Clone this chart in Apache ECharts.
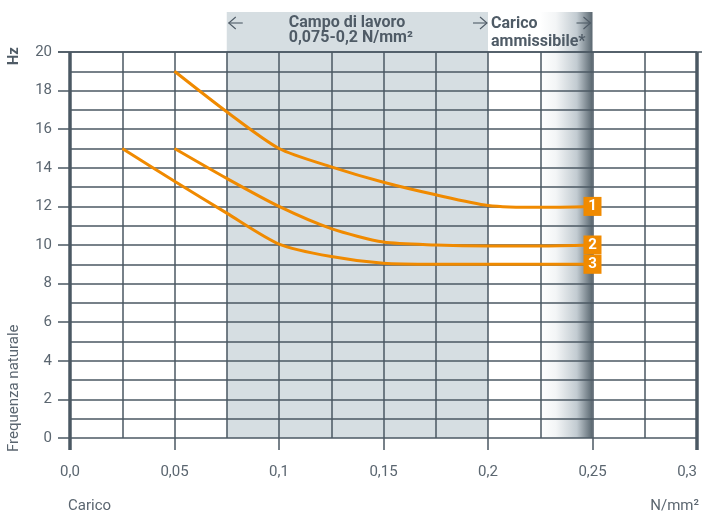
<!DOCTYPE html>
<html><head><meta charset="utf-8">
<script src="https://cdn.jsdelivr.net/npm/echarts@6/dist/echarts.min.js"></script>
<style>html,body{margin:0;padding:0;background:#fff}#c{width:702px;height:515px}</style>
</head><body><div id="c"></div>
<script>
const load1 = [0.05, 0.075, 0.1, 0.125, 0.15, 0.175, 0.2, 0.225, 0.25];
const freq1 = [19, 16.9, 15, 14.05, 13.25, 12.6, 12.05, 11.95, 12];
const load2 = [0.05, 0.075, 0.1, 0.125, 0.15, 0.175, 0.2, 0.225, 0.25];
const freq2 = [15, 13.45, 12, 10.85, 10.15, 10.0, 9.95, 9.95, 10];
const load3 = [0.025, 0.05, 0.075, 0.1, 0.125, 0.15, 0.175, 0.2, 0.225, 0.25];
const freq3 = [15, 13.3, 11.65, 10.05, 9.4, 9.05, 9.0, 9.0, 9.0, 9.0];
const seriesNames = ['1', '2', '3'];
const workRange = [0.075, 0.2];
const allowRange = [0.225, 0.25];
const xRange = [0, 0.3];
const yRange = [0, 20];

const ORANGE = '#f08a00';
const DARK = '#4b5863';
const TXT = '#5b6670';
const FONT = 'Roboto';

function pairs(xs, ys) { return xs.map((x, i) => [x, ys[i]]); }
function mkSeries(name, xs, ys) {
  const d = pairs(xs, ys);
  return {
    name, type: 'line', smooth: 0.25, symbol: 'circle', symbolSize: 0, showSymbol: true, z: 3,
    lineStyle: { color: ORANGE, width: 3 },
    itemStyle: { color: ORANGE },
    labelLayout: { hideOverlap: false },
    data: d.map((p, i) => i === d.length - 1 ? {
      value: p,
      label: { show: true, position: 'inside', formatter: name, color: '#fff',
        backgroundColor: ORANGE, fontFamily: FONT, fontSize: 15, fontWeight: 'bold',
        width: 14, height: 17, align: 'center', verticalAlign: 'middle', lineHeight: 17, padding: [1, 2, 1, 2] }
    } : p)
  };
}
const xfmt = v => v === 0 ? '0,0' : String(+v.toFixed(3)).replace('.', ',');

const chart = echarts.init(document.getElementById('c'), null, { renderer: 'canvas' });
chart.setOption({
  animation: false,
  grid: { left: 70, right: 5, top: 52, bottom: 77, containLabel: false, outerBoundsMode: 'none' },
  xAxis: {
    type: 'value', min: xRange[0], max: xRange[1], interval: 0.05,
    axisLine: { show: false },
    axisTick: { show: true, length: 12, lineStyle: { color: DARK, width: 1.5 } },
    axisLabel: { formatter: xfmt, color: TXT, fontFamily: FONT, fontSize: 15, margin: 27, alignMaxLabel: 'right' },
    splitLine: { show: true, lineStyle: { color: DARK, width: 1.5 } },
    minorTick: { show: false, splitNumber: 2 },
    minorSplitLine: { show: true, lineStyle: { color: DARK, width: 1.5 } }
  },
  yAxis: {
    type: 'value', min: yRange[0], max: yRange[1], interval: 2,
    axisLine: { show: false },
    axisTick: { show: true, length: 12, lineStyle: { color: DARK, width: 1.5 } },
    axisLabel: { color: TXT, fontFamily: FONT, fontSize: 15, margin: 18 },
    splitLine: { show: true, lineStyle: { color: DARK, width: 1.5 } },
    minorTick: { show: false, splitNumber: 2 },
    minorSplitLine: { show: true, lineStyle: { color: DARK, width: 1.5 } }
  },
  series: [
    mkSeries(seriesNames[0], load1, freq1),
    mkSeries(seriesNames[1], load2, freq2),
    mkSeries(seriesNames[2], load3, freq3)
  ]
});

const bandTop = 12;
const p = v => chart.convertToPixel({ xAxisIndex: 0, yAxisIndex: 0 }, v);
const [wx0, y0] = p([workRange[0], 0]);
const [wx1] = p([workRange[1], 0]);
const [ax0] = p([allowRange[0], 0]);
const [ax1] = p([allowRange[1], 0]);
const [gx0, yTop] = p([xRange[0], yRange[1]]);
const [gx1] = p([xRange[1], yRange[1]]);
const tstyle = (extra) => Object.assign({ fill: '#4f5b66', fontFamily: FONT, fontSize: 15 }, extra);
const AY = 23;
const arrowL = x => ({ type: 'polyline', z: 10, shape: { points: [[x + 7, AY - 6], [x, AY], [x + 7, AY + 6]] },
  style: { stroke: '#4f5b66', lineWidth: 1.1, fill: null } });
const shaft = (x1, x2) => ({ type: 'line', z: 10, shape: { x1: x1, y1: AY, x2: x2, y2: AY }, style: { stroke: '#4f5b66', lineWidth: 1.1 } });
const arrowR = x => ({ type: 'polyline', z: 10, shape: { points: [[x - 7, AY - 6], [x, AY], [x - 7, AY + 6]] },
  style: { stroke: '#4f5b66', lineWidth: 1.1, fill: null } });

chart.setOption({
  graphic: [
    { type: 'rect', z: -10, silent: true, shape: { x: wx0, y: bandTop, width: wx1 - wx0, height: y0 - bandTop },
      style: { fill: '#d6dee2' } },
    { type: 'rect', z: -10, silent: true, shape: { x: ax0, y: bandTop, width: ax1 - ax0, height: y0 - bandTop },
      style: { fill: new echarts.graphic.LinearGradient(0, 0, 1, 0, [
        { offset: 0, color: '#ffffff' }, { offset: 0.3, color: '#f3f5f6' },
        { offset: 0.7, color: '#c2cbd1' }, { offset: 1, color: '#59666f' }]) } },
    { type: 'line', z: 5, shape: { x1: 58, y1: yTop, x2: 702, y2: yTop }, style: { stroke: DARK, lineWidth: 1.5 } },
    { type: 'line', z: 6, shape: { x1: gx0, y1: yTop, x2: gx0, y2: y0 + 12 }, style: { stroke: DARK, lineWidth: 3.5 } },
    { type: 'line', z: 6, shape: { x1: gx1, y1: yTop, x2: gx1, y2: y0 + 12 }, style: { stroke: DARK, lineWidth: 3.5 } },
    arrowL(wx0 + 2), shaft(wx0 + 2, wx0 + 16),
    arrowR(wx1 - 1), shaft(wx1 - 15, wx1 - 1),
    arrowR(ax1 - 2), shaft(ax1 - 16, ax1 - 2),
    { type: 'text', z: 10, x: wx0 + 62, y: 15, style: tstyle({ text: 'Campo di lavoro\n0,075-0,2 N/mm²', fontWeight: 'bold', fontSize: 16, lineHeight: 15 }) },
    { type: 'text', z: 10, x: wx1 + 3, y: 15, style: tstyle({ text: 'Carico\nammissibile*', fontWeight: 'bold', fontSize: 16, lineHeight: 18 }) },
    { type: 'text', z: 10, x: 7, y: 47, rotation: Math.PI / 2, style: tstyle({ text: 'Hz', fontWeight: 'bold', fontSize: 15, align: 'right' }) },
    { type: 'text', z: 10, x: 7, y: 452, rotation: Math.PI / 2, style: tstyle({ text: 'Frequenza naturale', fill: TXT, fontSize: 15 }) },
    { type: 'text', z: 10, x: 68, y: 499, style: tstyle({ text: 'Carico', fill: TXT, fontSize: 15 }) },
    { type: 'text', z: 10, x: 699, y: 499, style: tstyle({ text: 'N/mm²', fill: TXT, fontSize: 15, align: 'right' }) }
  ]
});
</script></body></html>
